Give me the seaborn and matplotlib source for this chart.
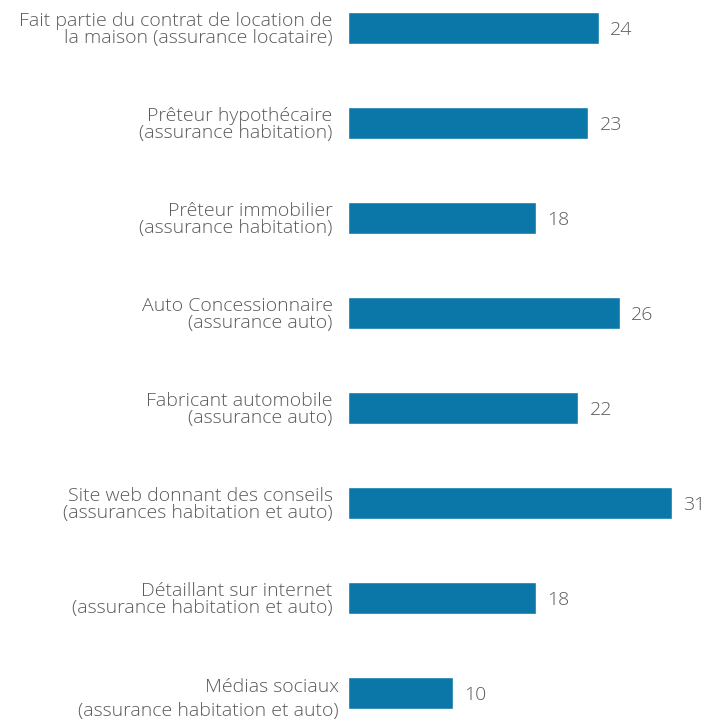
import matplotlib
matplotlib.use("Agg")
import matplotlib.pyplot as plt
import matplotlib.transforms as mtransforms
import seaborn as sns
import pandas as pd

categories = [
    "Fait partie du contrat de location de\nla maison (assurance locataire)",
    "Prêteur hypothécaire\n(assurance habitation)",
    "Prêteur immobilier\n(assurance habitation)",
    "Auto Concessionnaire\n(assurance auto)",
    "Fabricant automobile\n(assurance auto)",
    "Site web donnant des conseils\n(assurances habitation et auto)",
    "Détaillant sur internet\n(assurance habitation et auto)",
    "Médias sociaux\n(assurance habitation et auto)",
]
values = [24, 23, 18, 26, 22, 31, 18, 10]

sns.set_theme(style="white")
plt.rcParams['font.family'] = ['Open Sans', 'DejaVu Sans']

df = pd.DataFrame({"cat": categories, "val": values})

W, H = 718, 721
fig = plt.figure(figsize=(W/100, H/100), dpi=100)
ax = fig.add_axes([348/W, 0, (W-348)/W, 1])

sns.barplot(data=df, y="cat", x="val", orient="h", color="#0b77a8",
            width=0.337, ax=ax, saturation=1)

ax.set_xlim(0, (W-348)/10.45)
ax.set_ylim(7 + (721-693)/95, -28/95)
for s in ax.spines.values():
    s.set_visible(False)
ax.set_xlabel("")
ax.set_ylabel("")
ax.set_xticks([])
ax.tick_params(axis="y", length=0, pad=11)

gray = "#5a5a5a"
for lab in ax.get_yticklabels():
    lab.set_fontsize(14)
    lab.set_color(gray)
    lab.set_fontweight("light")
    lab.set_linespacing(0.95)
    lab.set_horizontalalignment("right")
labs = ax.get_yticklabels()
last = labs[-1]
last.set_linespacing(1.45)
last.set_transform(last.get_transform() +
                   mtransforms.ScaledTranslation(6/100, -1/100, fig.dpi_scale_trans))

for i, v in enumerate(values):
    ax.text(v + 1.1, i, str(v), va="center_baseline", ha="left",
            fontsize=14, color=gray, fontweight="light")

fig.savefig("out.png", dpi=100)
